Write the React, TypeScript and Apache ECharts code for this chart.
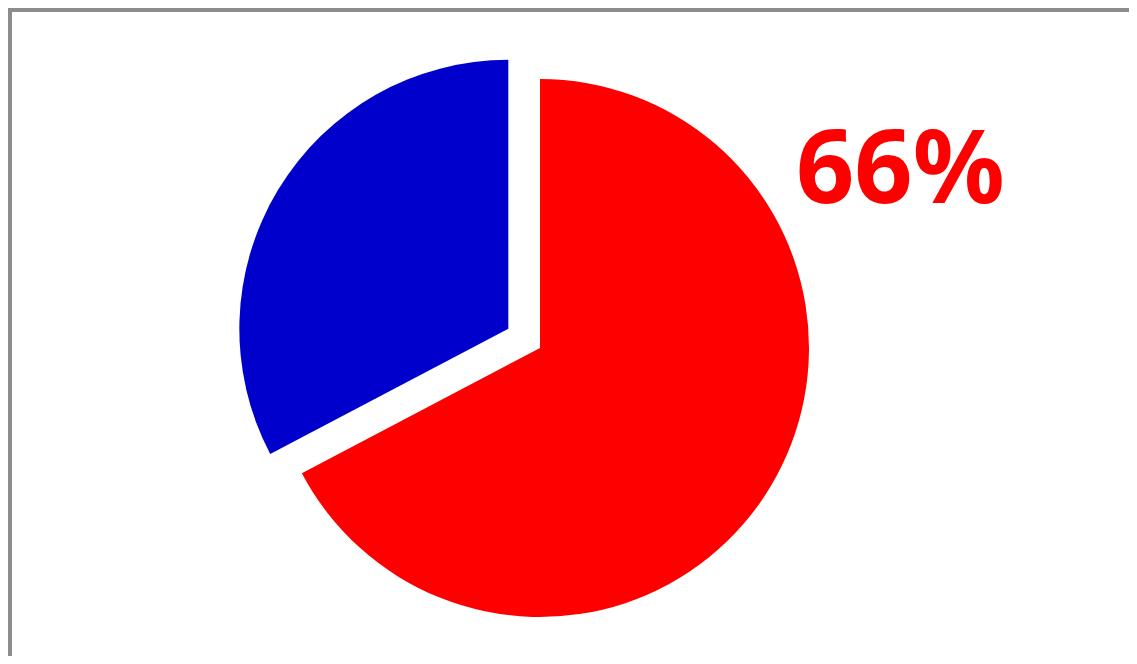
import React, { useEffect, useRef } from "react";
import * as echarts from "echarts";

const categories = ["Red", "Blue"];
const values = [67.3, 32.7];
const colors = ["#ff0000", "#0000cc"];
const labelText = "66%";

export default function App() {
  const ref = useRef<HTMLDivElement>(null);
  useEffect(() => {
    if (!ref.current) return;
    const chart = echarts.init(ref.current, undefined, { renderer: "svg" });
    chart.setOption({
      animation: false,
      backgroundColor: "#ffffff",
      series: [
        {
          type: "pie",
          center: [528, 336],
          radius: [0, 269],
          startAngle: 90,
          clockwise: true,
          selectedMode: "single",
          selectedOffset: 37,
          silent: true,
          label: { show: false },
          labelLine: { show: false },
          emphasis: { disabled: true },
          data: categories.map((c, i) => ({
            name: c,
            value: values[i],
            selected: i === 1,
            itemStyle: { color: colors[i] },
          })),
        },
      ],
      graphic: [
        {
          type: "text",
          left: 784,
          top: 100,
          style: {
            text: labelText,
            fill: "#ff0000",
            fontFamily: "Noto Sans",
            fontWeight: "bold",
            fontSize: 102,
          },
        },
      ],
    });
    return () => chart.dispose();
  }, []);
  return (
    <div
      ref={ref}
      style={{
        width: 1117,
        height: 644,
        borderLeft: "4px solid #8c8c8c",
        borderTop: "4px solid #8c8c8c",
      }}
    />
  );
}
